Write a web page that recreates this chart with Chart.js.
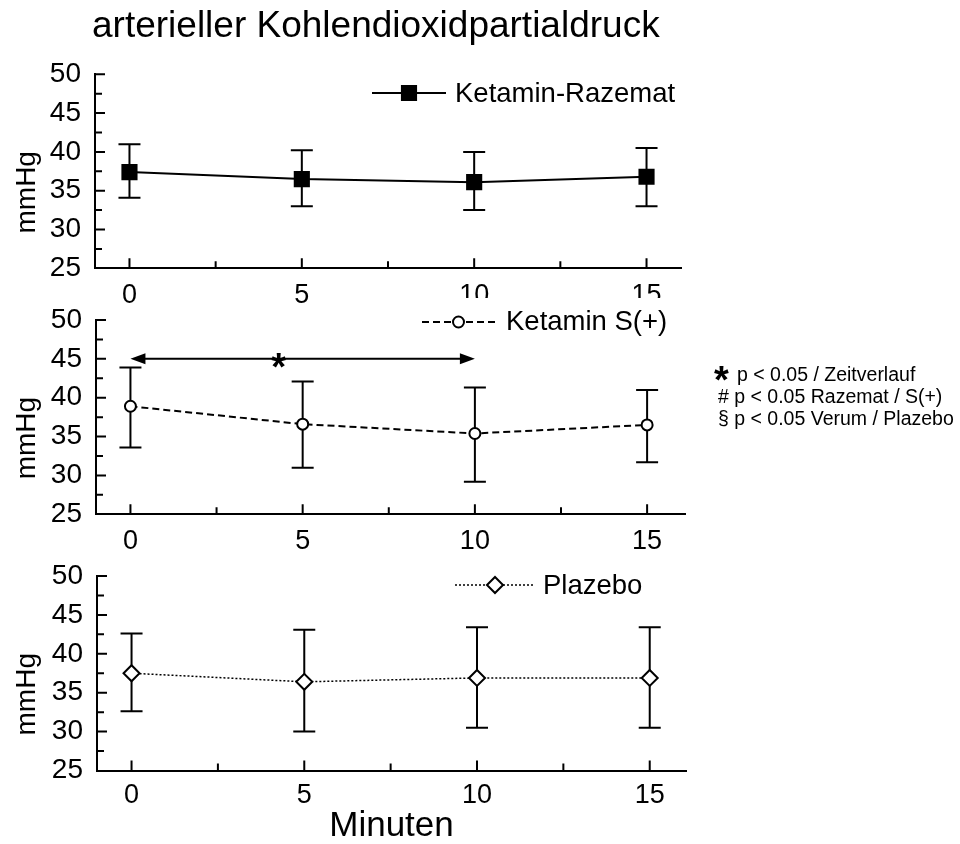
<!DOCTYPE html>
<html lang="de">
<head>
<meta charset="utf-8">
<title>arterieller Kohlendioxidpartialdruck</title>
<script src="https://cdn.jsdelivr.net/npm/chart.js@4.4.1/dist/chart.umd.min.js"></script>
<style>
  body { margin: 0; background: #fff; }
  #wrap { position: relative; width: 960px; height: 844px; overflow: hidden;
          font-family: "Liberation Sans", Arial, sans-serif; color: #000; }
  #wrap canvas { position: absolute; left: 0; top: 0; }
  .txt { position: absolute; white-space: nowrap; }
  #title { left: 92px; top: 6px; font-size: 37px; line-height: 37px; }
  .note { font-size: 19.5px; line-height: 20px; }
  .star { font-size: 38px; line-height: 38px; font-weight: bold; }
</style>
</head>
<body>
<div id="wrap">
  <canvas id="c1" width="960" height="844"></canvas>
  <canvas id="c2" width="960" height="844"></canvas>
  <canvas id="c3" width="960" height="844"></canvas>
  <div class="txt" id="title">arterieller Kohlendioxidpartialdruck</div>
  <div class="txt star" style="left:714px; top:361px;">*</div>
  <div class="txt note" style="left:737px; top:364px;">p &lt; 0.05 / Zeitverlauf</div>
  <div class="txt note" style="left:718px; top:386px;"># p &lt; 0.05 Razemat / S(+)</div>
  <div class="txt note" style="left:718px; top:408px;">§ p &lt; 0.05 Verum / Plazebo</div>
</div>
<script>
// ---------- data ----------
const minutes = [0, 5, 10, 15];
const xTicks = [0, 5, 10, 15];
const yTicks = [25, 30, 35, 40, 45, 50];

const razematName = "Ketamin-Razemat";
const razematMean = [37.4, 36.5, 36.1, 36.8];
const razematUpper = [41.0, 40.2, 40.0, 40.5];
const razematLower = [34.1, 33.0, 32.5, 33.0];

const sPlusName = "Ketamin S(+)";
const sPlusMean = [38.9, 36.6, 35.4, 36.5];
const sPlusUpper = [43.9, 42.1, 41.3, 41.0];
const sPlusLower = [33.6, 31.0, 29.2, 31.7];

const plazeboName = "Plazebo";
const plazeboMean = [37.5, 36.4, 36.9, 36.9];
const plazeboUpper = [42.6, 43.1, 43.4, 43.4];
const plazeboLower = [32.6, 30.0, 30.5, 30.5];

// significance over time (S(+)): minute 0 to 10, drawn at 45 mmHg
const sigRange = [0, 10];
const sigLevel = 45;
const sigStarAt = 4.3;

const FONT = '"Liberation Sans", Arial, sans-serif';

// ---------- plugins ----------
const errorBars = {
  id: "errorBars",
  beforeDatasetsDraw(chart) {
    const { ctx, scales: { x, y } } = chart;
    const ds = chart.data.datasets[0];
    ctx.save();
    ctx.strokeStyle = "#000";
    ctx.lineWidth = 2;
    ctx.setLineDash([]);
    ds.data.forEach((p, i) => {
      const px = x.getPixelForValue(p.x);
      const top = y.getPixelForValue(ds.errHigh[i]);
      const bot = y.getPixelForValue(ds.errLow[i]);
      ctx.beginPath();
      ctx.moveTo(px, top); ctx.lineTo(px, bot);
      ctx.moveTo(px - 11, top); ctx.lineTo(px + 11, top);
      ctx.moveTo(px - 11, bot); ctx.lineTo(px + 11, bot);
      ctx.stroke();
    });
    ctx.restore();
  }
};

// tick marks point into the plot; half steps get shorter ones
const innerTicks = {
  id: "innerTicks",
  afterDraw(chart) {
    const { ctx, chartArea: a, scales: { x, y } } = chart;
    ctx.save();
    ctx.strokeStyle = "#000";
    ctx.lineWidth = 2;
    ctx.beginPath();
    yTicks.forEach((v, i) => {
      if (i > 0) {
        const py = y.getPixelForValue(v);
        ctx.moveTo(a.left, py); ctx.lineTo(a.left + 10, py);
      }
      if (i < yTicks.length - 1) {
        const pm = y.getPixelForValue((v + yTicks[i + 1]) / 2);
        ctx.moveTo(a.left, pm); ctx.lineTo(a.left + 7, pm);
      }
    });
    xTicks.forEach((v, i) => {
      const px = x.getPixelForValue(v);
      ctx.moveTo(px, a.bottom); ctx.lineTo(px, a.bottom - 10);
      if (i < xTicks.length - 1) {
        const pm = x.getPixelForValue((v + xTicks[i + 1]) / 2);
        ctx.moveTo(pm, a.bottom); ctx.lineTo(pm, a.bottom - 7);
      }
    });
    ctx.stroke();
    ctx.restore();
  }
};

// rotated unit caption, sitting a little below the middle of the axis
const unitCaption = {
  id: "unitCaption",
  afterDraw(chart) {
    const { ctx, chartArea: a } = chart;
    ctx.save();
    ctx.translate(27, (a.top + a.bottom) / 2 + 21);
    ctx.rotate(-Math.PI / 2);
    ctx.font = "28px " + FONT;
    ctx.fillStyle = "#000";
    ctx.textAlign = "center";
    ctx.textBaseline = "middle";
    ctx.fillText("mmHg", 0, 0);
    ctx.restore();
  }
};

// series key: short line sample with the marker in the middle
const seriesKey = {
  id: "seriesKey",
  afterDraw(chart, args, opts) {
    const { ctx } = chart;
    const ds = chart.data.datasets[0];
    ctx.save();
    if (opts.cover) {
      ctx.fillStyle = "#fff";
      ctx.fillRect(...opts.cover);
    }
    ctx.strokeStyle = "#000";
    ctx.lineWidth = ds.borderWidth;
    ctx.setLineDash(ds.borderDash || []);
    ctx.beginPath();
    ctx.moveTo(opts.x1, opts.y);
    ctx.lineTo(opts.x2, opts.y);
    ctx.stroke();
    ctx.setLineDash([]);
    ctx.lineWidth = ds.pointBorderWidth;
    ctx.fillStyle = ds.pointBackgroundColor;
    Chart.helpers.drawPoint(ctx, {
      pointStyle: ds.pointStyle, radius: ds.pointRadius,
      borderWidth: ds.pointBorderWidth, rotation: 0
    }, (opts.x1 + opts.x2) / 2, opts.y);
    ctx.fillStyle = "#000";
    ctx.font = "27.5px " + FONT;
    ctx.textAlign = "left";
    ctx.textBaseline = "middle";
    ctx.fillText(ds.label, opts.textX, opts.textY);
    ctx.restore();
  }
};

const sigArrow = {
  id: "sigArrow",
  afterDatasetsDraw(chart) {
    const { ctx, scales: { x, y } } = chart;
    const x0 = x.getPixelForValue(sigRange[0]);
    const x1 = x.getPixelForValue(sigRange[1]);
    const py = y.getPixelForValue(sigLevel);
    ctx.save();
    ctx.strokeStyle = "#000";
    ctx.fillStyle = "#000";
    ctx.lineWidth = 2;
    ctx.beginPath();
    ctx.moveTo(x0 + 10, py); ctx.lineTo(x1 - 10, py);
    ctx.stroke();
    ctx.beginPath();
    ctx.moveTo(x0, py); ctx.lineTo(x0 + 15, py - 5.5); ctx.lineTo(x0 + 15, py + 5.5); ctx.closePath();
    ctx.moveTo(x1, py); ctx.lineTo(x1 - 15, py - 5.5); ctx.lineTo(x1 - 15, py + 5.5); ctx.closePath();
    ctx.fill();
    ctx.font = "bold 38px " + FONT;
    ctx.textAlign = "center";
    ctx.textBaseline = "alphabetic";
    ctx.fillText("*", x.getPixelForValue(sigStarAt), py + 21.6);
    ctx.restore();
  }
};

// ---------- panels ----------
function makePanel(id, box, s, key, extra) {
  const xScale = {
    type: "linear",
    min: -1,
    max: box.xMax,
    afterBuildTicks: sc => { sc.ticks = xTicks.map(v => ({ value: v })); },
    afterFit: sc => { sc.height = box.xHeight; },
    grid: { display: false, drawTicks: false },
    border: { display: true, color: "#000", width: 2 },
    ticks: { color: "#000", padding: box.labelPad, maxRotation: 0, autoSkip: false,
             font: { family: FONT, size: 27 } }
  };
  if (box.xTitle) {
    xScale.title = { display: true, text: box.xTitle, color: "#000",
                     padding: { top: 0, bottom: 0 },
                     font: { family: FONT, size: 35, lineHeight: 1 } };
  }
  return new Chart(document.getElementById(id), {
    type: "line",
    data: {
      datasets: [{
        label: s.name,
        data: minutes.map((m, i) => ({ x: m, y: s.mean[i] })),
        errHigh: s.upper,
        errLow: s.lower,
        borderColor: "#000",
        borderWidth: s.lineWidth,
        borderDash: s.dash,
        pointStyle: s.marker,
        pointRadius: s.radius,
        pointBackgroundColor: s.fill,
        pointBorderColor: "#000",
        pointBorderWidth: 2,
        tension: 0,
        fill: false
      }]
    },
    options: {
      responsive: false,
      animation: false,
      events: [],
      layout: { padding: { left: 0, top: box.top, right: 960 - box.right,
                           bottom: 844 - box.bottom - box.xHeight } },
      plugins: { legend: { display: false }, tooltip: { enabled: false }, seriesKey: key },
      scales: {
        x: xScale,
        y: {
          min: 25,
          max: 50,
          afterBuildTicks: sc => { sc.ticks = yTicks.map(v => ({ value: v })); },
          afterFit: sc => { sc.width = box.left; },
          grid: { display: false, drawTicks: false },
          border: { display: true, color: "#000", width: 2 },
          ticks: { color: "#000", padding: 14, font: { family: FONT, size: 28 } }
        }
      }
    },
    plugins: [errorBars, innerTicks, unitCaption, seriesKey].concat(extra || [])
  });
}

makePanel("c1",
  { left: 95, right: 681, top: 74.3, bottom: 268.3, xMax: 16.0, xHeight: 40, labelPad: 11 },
  { name: razematName, mean: razematMean, upper: razematUpper, lower: razematLower,
    lineWidth: 2, dash: [], marker: "rect", radius: 10, fill: "#000" },
  { x1: 372, x2: 446, y: 93, textX: 455, textY: 94 });

makePanel("c2",
  { left: 96, right: 685, top: 320, bottom: 514.3, xMax: 16.1, xHeight: 40, labelPad: 11 },
  { name: sPlusName, mean: sPlusMean, upper: sPlusUpper, lower: sPlusLower,
    lineWidth: 2, dash: [7, 4], marker: "circle", radius: 5.5, fill: "#fff" },
  { x1: 422, x2: 495, y: 322, textX: 506, textY: 322.5, cover: [405, 298, 290, 44] },
  [sigArrow]);

makePanel("c3",
  { left: 97, right: 686, top: 576, bottom: 770.5, xMax: 16.05, xHeight: 73.5, labelPad: 9,
    xTitle: "Minuten" },
  { name: plazeboName, mean: plazeboMean, upper: plazeboUpper, lower: plazeboLower,
    lineWidth: 1.5, dash: [2, 2], marker: "rectRot", radius: 8, fill: "#fff" },
  { x1: 455, x2: 535, y: 585, textX: 543, textY: 586 });
</script>
</body>
</html>
